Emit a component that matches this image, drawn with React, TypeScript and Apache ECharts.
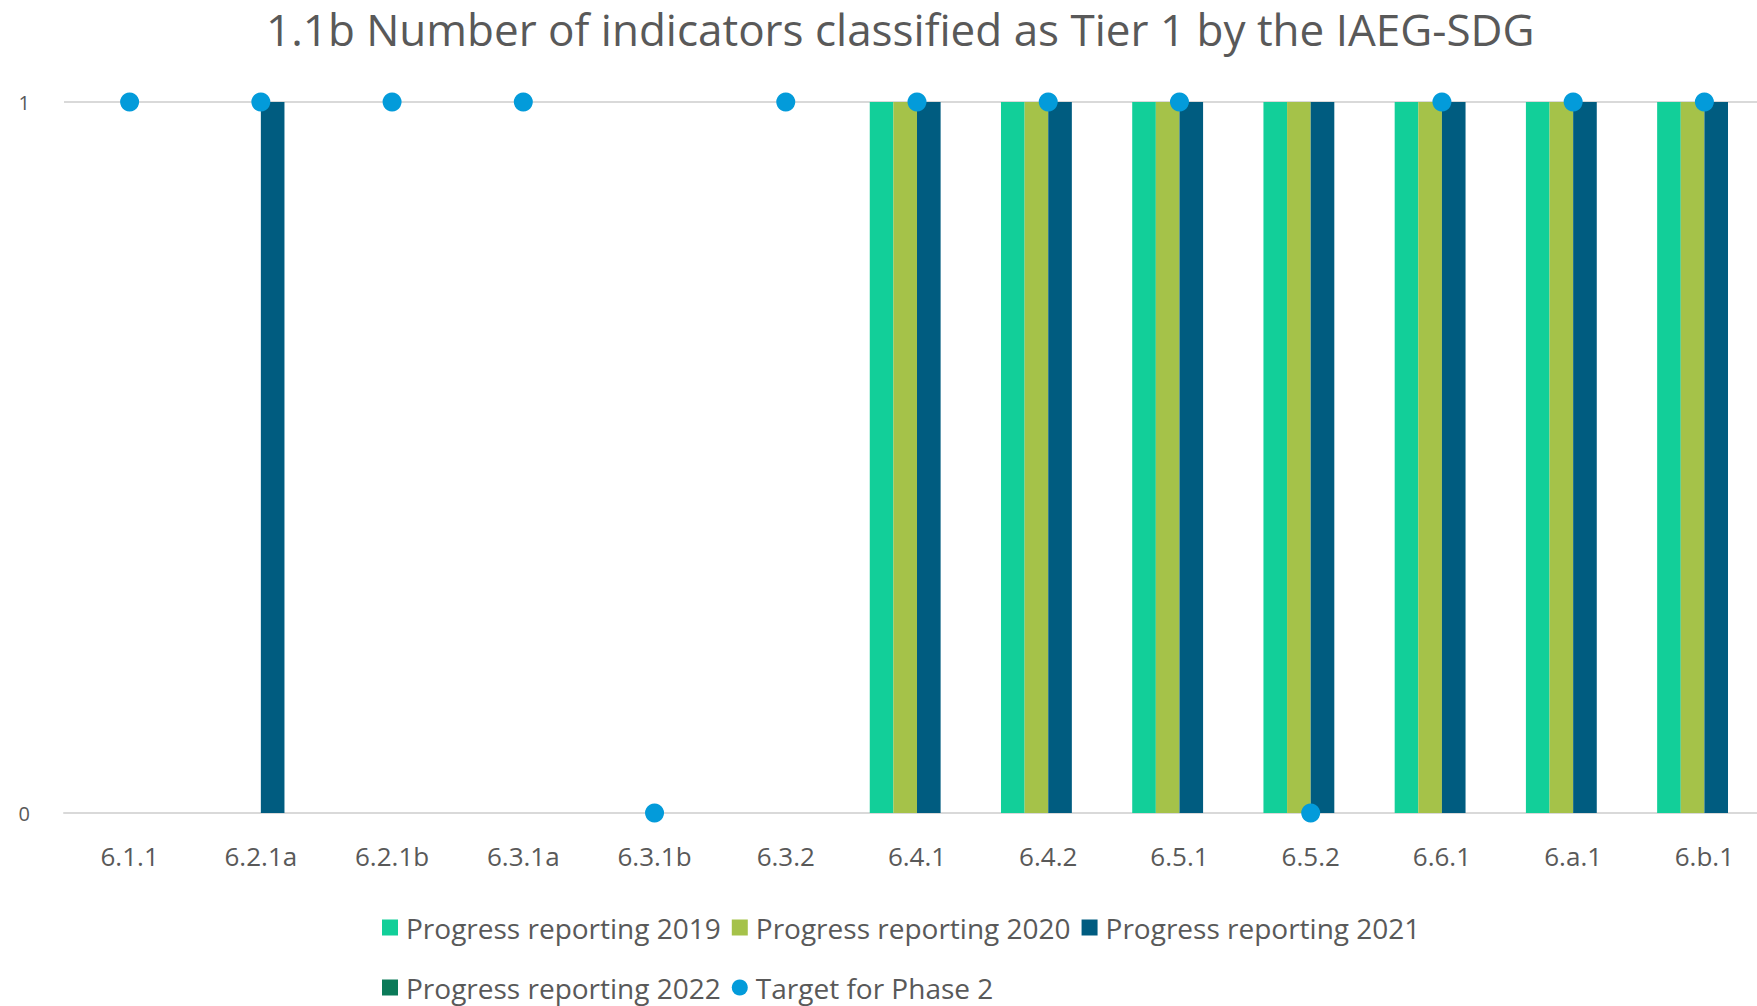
import React, { useEffect, useRef } from "react";
import * as echarts from "echarts";

const categories = ["6.1.1", "6.2.1a", "6.2.1b", "6.3.1a", "6.3.1b", "6.3.2", "6.4.1", "6.4.2", "6.5.1", "6.5.2", "6.6.1", "6.a.1", "6.b.1"];
const progress2019 = [0, 0, 0, 0, 0, 0, 1, 1, 1, 1, 1, 1, 1];
const progress2020 = [0, 0, 0, 0, 0, 0, 1, 1, 1, 1, 1, 1, 1];
const progress2021 = [0, 1, 0, 0, 0, 0, 1, 1, 1, 1, 1, 1, 1];
const progress2022 = [0, 0, 0, 0, 0, 0, 0, 0, 0, 0, 0, 0, 0];
const targetPhase2 = [1, 1, 1, 1, 0, 1, 1, 1, 1, 0, 1, 1, 1];
const yTicks = [0, 1];

const FONT = "'Open Sans', 'Noto Sans', sans-serif";
const GREY = "#595959";

export default function App() {
  const ref = useRef<HTMLDivElement>(null);
  useEffect(() => {
    if (!ref.current) return;
    const chart = echarts.init(ref.current, undefined, { renderer: "svg" });
    const bar = (name: string, data: number[], color: string) => ({
      name,
      type: "bar",
      data,
      barGap: "0%",
      barCategoryGap: "28%",
      itemStyle: { color },
      z: 2,
    });
    chart.setOption({
      animation: false,
      textStyle: { fontFamily: FONT },
      title: {
        text: "1.1b Number of indicators classified as Tier 1 by the IAEG-SDG",
        left: 266,
        top: 6,
        padding: 0,
        textStyle: { fontFamily: FONT, fontSize: 44, lineHeight: 46, fontWeight: "normal", color: GREY },
      },
      grid: { left: 64, width: 1706, top: 102, height: 711, containLabel: false, outerBoundsMode: "none" },
      xAxis: {
        type: "category",
        data: categories,
        axisLine: { show: true, lineStyle: { color: "#D9D9D9", width: 2 } },
        axisTick: { show: false },
        axisLabel: { color: GREY, fontSize: 26, margin: 30, fontFamily: FONT },
      },
      yAxis: {
        type: "value",
        min: yTicks[0],
        max: yTicks[yTicks.length - 1],
        interval: 1,
        axisLine: { show: false },
        axisTick: { show: false },
        splitLine: { lineStyle: { color: "#D9D9D9", width: 2 } },
        axisLabel: { color: GREY, fontSize: 20, margin: 34, fontFamily: FONT },
      },
      legend: {
        top: 903,
        left: 382,
        width: 1080,
        itemWidth: 16,
        itemHeight: 16,
        itemGap: 11,
        padding: 0,
        textStyle: { color: GREY, fontSize: 28, lineHeight: 49, fontFamily: FONT, padding: [0, 0, 0, 3] },
        data: [
          { name: "Progress reporting 2019", icon: "rect" },
          { name: "Progress reporting 2020", icon: "rect" },
          { name: "Progress reporting 2021", icon: "rect" },
          { name: "Progress reporting 2022", icon: "rect" },
          { name: "Target for Phase 2", icon: "circle" },
        ],
      },
      series: [
        bar("Progress reporting 2019", progress2019, "#12CF99"),
        bar("Progress reporting 2020", progress2020, "#A5C249"),
        bar("Progress reporting 2021", progress2021, "#005C80"),
        bar("Progress reporting 2022", progress2022, "#0A7A58"),
        {
          name: "Target for Phase 2",
          type: "line",
          data: targetPhase2,
          symbol: "circle",
          symbolSize: 19,
          showSymbol: true,
          lineStyle: { width: 0, opacity: 0 },
          itemStyle: { color: "#039BDA" },
          z: 5,
        },
      ],
    });
    return () => chart.dispose();
  }, []);
  return <div ref={ref} style={{ width: 1757, height: 1006, position: "absolute", left: 0, top: 0 }} />;
}
